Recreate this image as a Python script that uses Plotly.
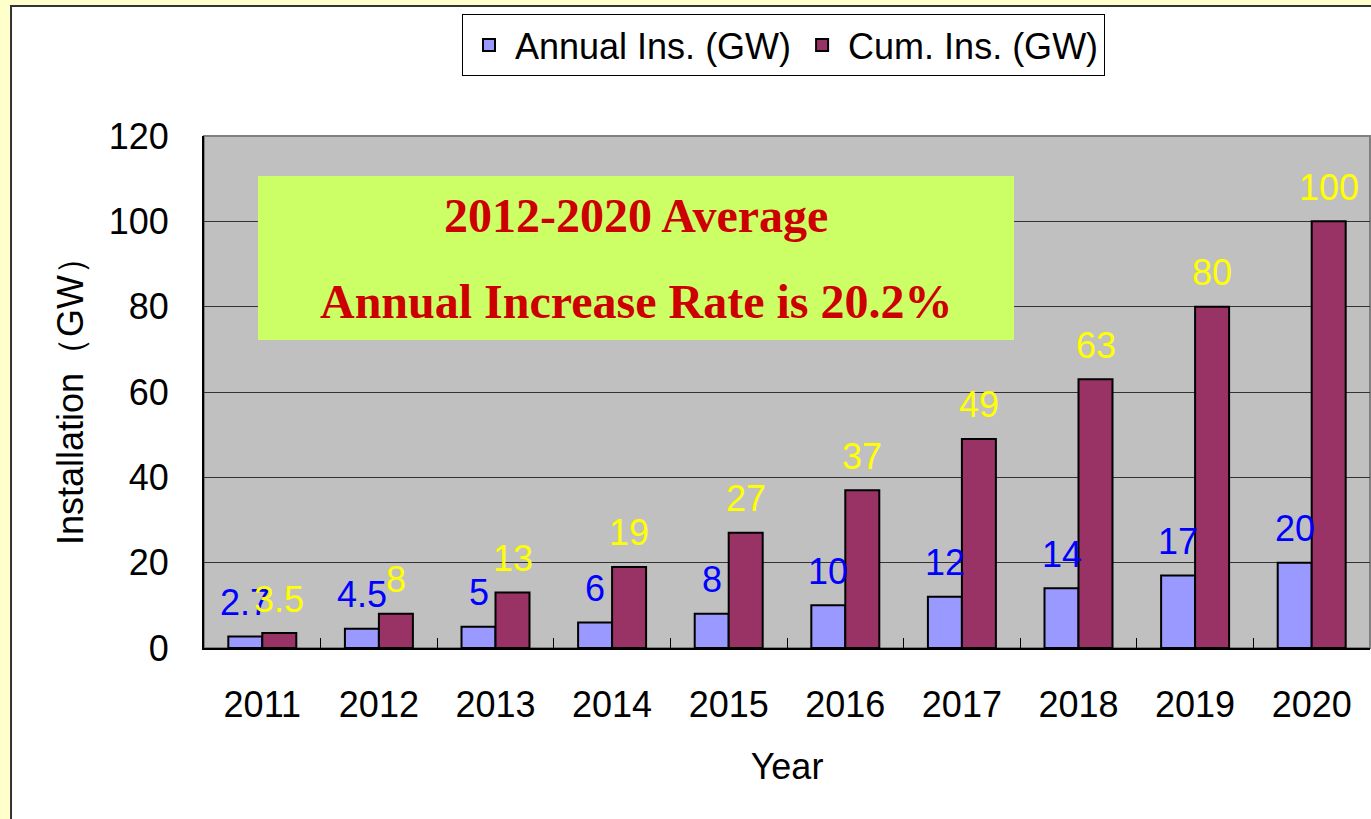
import plotly.graph_objects as go

years = ["2011", "2012", "2013", "2014", "2015", "2016", "2017", "2018", "2019", "2020"]
annual = [2.7, 4.5, 5, 6, 8, 10, 12, 14, 17, 20]
cumulative = [3.5, 8, 13, 19, 27, 37, 49, 63, 80, 100]
annual_labels = ["2.7", "4.5", "5", "6", "8", "10", "12", "14", "17", "20"]
cum_labels = ["3.5", "8", "13", "19", "27", "37", "49", "63", "80", "100"]
y_ticks = [0, 20, 40, 60, 80, 100, 120]

FONT = "Liberation Sans, Arial, sans-serif"
SERIF = "Liberation Serif, Times New Roman, serif"

fig = go.Figure()
fig.add_trace(go.Bar(
    x=years, y=annual, name="Annual Ins. (GW)",
    marker=dict(color="#9999FF", line=dict(color="black", width=2)),
))
fig.add_trace(go.Bar(
    x=years, y=cumulative, name="Cum. Ins. (GW)",
    marker=dict(color="#993366", line=dict(color="black", width=2)),
))

annotations = []
for i, (v, t) in enumerate(zip(annual, annual_labels)):
    annotations.append(dict(x=i, y=v, xref="x", yref="y", text=t, showarrow=False,
                            xshift=-17, yshift=34, yanchor="middle",
                            font=dict(family=FONT, size=36, color="#0000FF")))
for i, (v, t) in enumerate(zip(cumulative, cum_labels)):
    annotations.append(dict(x=i, y=v, xref="x", yref="y", text=t, showarrow=False,
                            xshift=17, yshift=34, yanchor="middle",
                            font=dict(family=FONT, size=36, color="#FFFF00")))

# highlight box text
annotations.append(dict(x=0.3705, y=0.8438, xref="paper", yref="paper",
                        text="<b>2012-2020 Average</b>", showarrow=False,
                        xanchor="center", yanchor="middle",
                        font=dict(family=SERIF, size=48, color="#CC0000")))
annotations.append(dict(x=0.3705, y=0.6758, xref="paper", yref="paper",
                        text="<b>Annual Increase Rate is 20.2%</b>", showarrow=False,
                        xanchor="center", yanchor="middle",
                        font=dict(family=SERIF, size=48, color="#CC0000")))

shapes = [
    # outer white chart frame
    dict(type="rect", xref="paper", yref="paper", x0=-0.1655, x1=1.05, y0=-0.40, y1=1.2539,
         fillcolor="white", line=dict(color="#333333", width=2), layer="below"),
    # grey plot area with grey border (top/right)
    dict(type="rect", xref="paper", yref="paper", x0=0, x1=1, y0=0, y1=1,
         fillcolor="#C0C0C0", line=dict(color="#808080", width=2), layer="below"),
    # green highlight box
    dict(type="rect", xref="paper", yref="paper", x0=0.0463, x1=0.6947, y0=0.6016, y1=0.9219,
         fillcolor="#CCFF66", line=dict(width=0), layer="above"),
]

fig.update_layout(
    width=1371, height=819,
    margin=dict(l=204, r=1, t=136, b=171, autoexpand=False),
    paper_bgcolor="#FFFFCC",
    plot_bgcolor="rgba(0,0,0,0)",
    barmode="group", bargap=0.417, bargroupgap=0,
    font=dict(family=FONT, size=36, color="black"),
    showlegend=True,
    legend=dict(orientation="h", x=0.497, xanchor="center", y=1.238, yanchor="top",
                bgcolor="white", bordercolor="black", borderwidth=1,
                font=dict(family=FONT, size=36, color="black"),
                traceorder="normal", itemwidth=42),
    annotations=annotations,
    shapes=shapes,
    xaxis=dict(
        type="category", range=[-0.5, len(years) - 0.5],
        showline=True, linecolor="black", linewidth=2,
        ticks="inside", tickson="boundaries", ticklen=10, tickcolor="black", tickwidth=1,
        showgrid=False, ticklabelstandoff=24, tickangle=0,
        tickfont=dict(family=FONT, size=36, color="black"),
        title=dict(text="Year", font=dict(family=FONT, size=36, color="black"), standoff=30),
    ),
    yaxis=dict(
        range=[0, 120], tickvals=y_ticks, showline=True, linecolor="black", linewidth=2,
        showgrid=True, gridcolor="#333333", gridwidth=1, zeroline=False, ticks="",
        ticklabelstandoff=26,
        tickfont=dict(family=FONT, size=36, color="black"),
        title=dict(text="Installation（GW）", font=dict(family=FONT, size=36, color="black"), standoff=14),
    ),
)

fig.write_html(
    "out.html",
    config={"displayModeBar": False},
    post_script="document.body.style.margin='0';document.body.style.background='#FFFFCC';",
)
